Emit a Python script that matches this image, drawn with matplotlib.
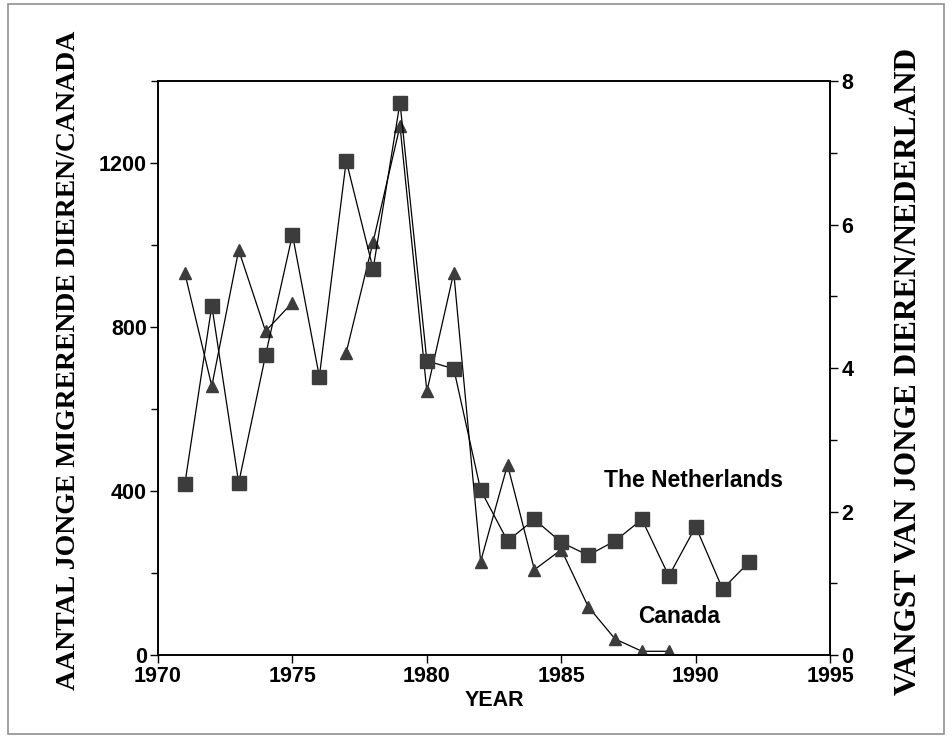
import numpy as np
import matplotlib
matplotlib.use('Agg')
from matplotlib import pyplot as plt
from matplotlib.patches import Rectangle
from matplotlib.ticker import MultipleLocator

# Canada (left axis), no value for 1976
years_ca = [1971, 1972, 1973, 1974, 1975, 1976, 1977, 1978, 1979, 1980,
            1981, 1982, 1983, 1984, 1985, 1986, 1987, 1988, 1989]
canada = [931, 656, 988, 790, 860, np.nan, 738, 1008, 1291, 643,
          933, 228, 464, 208, 257, 118, 39, 9, 9]

# The Netherlands (right axis)
years_nl = list(range(1971, 1993))
netherlands = [2.39, 4.87, 2.40, 4.18, 5.86, 3.88, 6.89, 5.38, 7.70, 4.10, 3.99,
               2.30, 1.59, 1.89, 1.57, 1.39, 1.59, 1.89, 1.10, 1.79, 0.92, 1.30]

sans = 'Liberation Sans'
serif = 'Liberation Serif'
mcol = '#3c3c3c'

fig = plt.figure(figsize=(9.52, 7.38), dpi=100)
fig.patches.append(Rectangle((0.008, 0.006), 0.984, 0.988, transform=fig.transFigure,
                             fill=False, edgecolor='#909090', lw=1.2))

ax = fig.add_axes([0.166, 0.1125, 0.706, 0.7775])
ax2 = ax.twinx()

ax.plot(years_ca, canada, color='black', lw=0.9, marker='^', ms=9,
        mfc=mcol, mec=mcol, zorder=3)
ax2.plot(years_nl, netherlands, color='black', lw=0.9, marker='s', ms=10,
         mfc=mcol, mec=mcol, zorder=3)

ax.set_xlim(1970, 1995)
ax.set_ylim(0, 1400)
ax2.set_ylim(0, 8)
ax.set_xticks([1970, 1975, 1980, 1985, 1990, 1995])
ax.set_yticks([0, 400, 800, 1200])
ax.yaxis.set_minor_locator(MultipleLocator(200))
ax2.set_yticks([0, 2, 4, 6, 8])
ax2.yaxis.set_minor_locator(MultipleLocator(1))

for a in (ax, ax2):
    a.tick_params(which='major', direction='out', length=6, width=1, pad=2)
    a.tick_params(which='minor', direction='out', length=5, width=1)
    for lab in a.get_xticklabels() + a.get_yticklabels():
        lab.set_fontfamily(sans)
        lab.set_fontweight('bold')
        lab.set_fontsize(15.5)
    for s in a.spines.values():
        s.set_linewidth(1.2)

ax.set_xlabel('YEAR', fontfamily=sans, fontweight='bold', fontsize=15.5, labelpad=2)
fig.text(0.072, 0.512, 'AANTAL JONGE MIGRERENDE DIEREN/CANADA', rotation=90,
         ha='center', va='center', fontfamily=serif, fontweight='bold', fontsize=20)
fig.text(0.954, 0.497, 'VANGST VAN JONGE DIEREN/NEDERLAND', rotation=90,
         ha='center', va='center', fontfamily=serif, fontweight='bold', fontsize=22.5)

ax2.text(1989.9, 2.43, 'The Netherlands', ha='center', va='center',
         fontfamily=sans, fontweight='bold', fontsize=16.5)
ax2.text(1989.4, 0.53, 'Canada', ha='center', va='center',
         fontfamily=sans, fontweight='bold', fontsize=16.5)

fig.savefig('out.png', dpi=100)
